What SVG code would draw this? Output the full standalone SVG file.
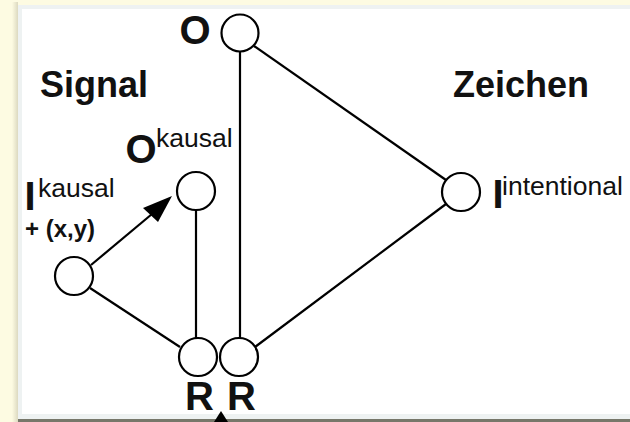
<svg xmlns="http://www.w3.org/2000/svg" width="630" height="422" viewBox="0 0 630 422">
<defs>
<style>
.node{fill:#fff;stroke:#000;stroke-width:2.2}
.edge{stroke:#000;stroke-width:2.2;fill:none}
.big{font-family:"Liberation Sans",Arial,sans-serif;font-weight:bold;fill:#111}
.sup{font-family:"Liberation Sans",Arial,sans-serif;font-size:26.5px;fill:#111}
</style>
<linearGradient id="shL" x1="0" y1="0" x2="1" y2="0">
<stop offset="0" stop-color="#fdfbe2"/>
<stop offset="1" stop-color="#dcd9c0"/>
</linearGradient>
</defs>
<rect x="0" y="0" width="630" height="422" fill="#fdfbe2"/>
<rect x="12" y="2" width="6" height="420" fill="url(#shL)"/>
<rect x="18" y="5" width="612" height="414" fill="#eef2f2"/>
<rect x="22" y="9" width="608" height="405" fill="#fff"/>
<rect x="18" y="419" width="612" height="3" fill="#77776a"/>
<g id="connectors">
<line class="edge" x1="240" y1="52" x2="240" y2="338"/>
<line class="edge" x1="254" y1="46" x2="446" y2="180"/>
<line class="edge" x1="446" y1="204" x2="255" y2="347"/>
<line class="edge" x1="196" y1="210" x2="196" y2="338"/>
<line class="edge" x1="90" y1="288" x2="180" y2="347"/>
<line class="edge" x1="91" y1="265" x2="152" y2="214"/>
<path d="M172,196 L143,208 L158,222 z" fill="#000"/>
<path d="M221,411 L214,422 L228,422 z" fill="#000"/>
</g>
<g id="O">
<circle class="node" cx="240" cy="33" r="18.5"/>
<text class="big" x="179.5" y="44" font-size="40">O</text>
</g>
<g id="Okausal">
<circle class="node" cx="196" cy="191" r="19"/>
<text class="big" x="125.5" y="163" font-size="40">O</text>
<text class="sup" x="156" y="147">kausal</text>
</g>
<g id="Ikausal">
<circle class="node" cx="74" cy="276" r="19"/>
<text class="big" x="24.5" y="210" font-size="40">I</text>
<text class="sup" x="38" y="197">kausal</text>
<text class="big" x="25" y="237" font-size="24">+ (x,y)</text>
</g>
<g id="R1">
<circle class="node" cx="198" cy="357" r="19"/>
<text class="big" x="185" y="410" font-size="40">R</text>
</g>
<g id="R2">
<circle class="node" cx="239" cy="357" r="19"/>
<text class="big" x="227" y="410" font-size="40">R</text>
</g>
<g id="Iintentional">
<circle class="node" cx="461" cy="192" r="19"/>
<text class="big" x="492.5" y="208" font-size="40">I</text>
<text class="sup" x="502" y="195">intentional</text>
</g>
<g id="labels">
<text class="big" x="40" y="97" font-size="36">Signal</text>
<text class="big" x="453" y="97" font-size="36">Zeichen</text>
</g>
</svg>
